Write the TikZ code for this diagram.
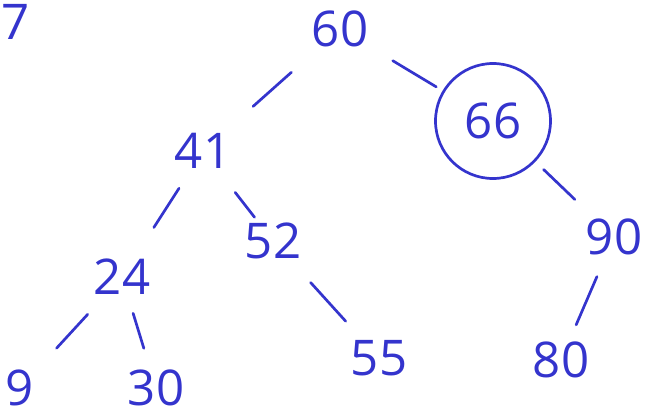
\documentclass[tikz,border=0pt]{standalone}
\usepackage{fontspec}
\setmainfont{Open Sans}
\usepackage{tikz}
\usetikzlibrary{calc}
\usepackage{xcolor}
\definecolor{penblue}{RGB}{52,52,205}

\begin{document}
\begin{tikzpicture}[x=0.03cm, y=-0.03cm, font=\fontsize{42}{50}\selectfont,
  key/.style={text=penblue, inner sep=0pt},
  edge/.style={penblue, line width=2.3pt, line cap=round}]
  \useasboundingbox (0,0) rectangle (646,419);

  % Draw keys
  \foreach \k/\x/\y in {60/340/29, 41/203/151, 52/273/241, 24/122/277,
                        90/614/237, 55/379/358, 80/561/360, 9/20/388, 30/156/388} {
    \node[key] (n\k) at (\x,\y) {\k};
  }
  \node[key, draw=penblue, line width=2.3pt, circle, minimum size=3.45cm] (n66) at (493,121) {66};
  \node[key, anchor=west] (mark) at (1,22) {7};

  % Tree edges (short strokes between keys)
  \foreach \a/\b/\s/\e in {60/41/0.355/0.634, 60/66/0.345/0.629, 66/90/0.418/0.676,
                           41/24/0.296/0.607, 41/52/0.46/0.736, 24/9/0.336/0.642,
                           24/30/0.327/0.642, 52/55/0.355/0.686, 90/80/0.322/0.714} {
    \draw[edge] ($(n\a)!\s!(n\b)$) -- ($(n\a)!\e!(n\b)$);
  }
\end{tikzpicture}
\end{document}
